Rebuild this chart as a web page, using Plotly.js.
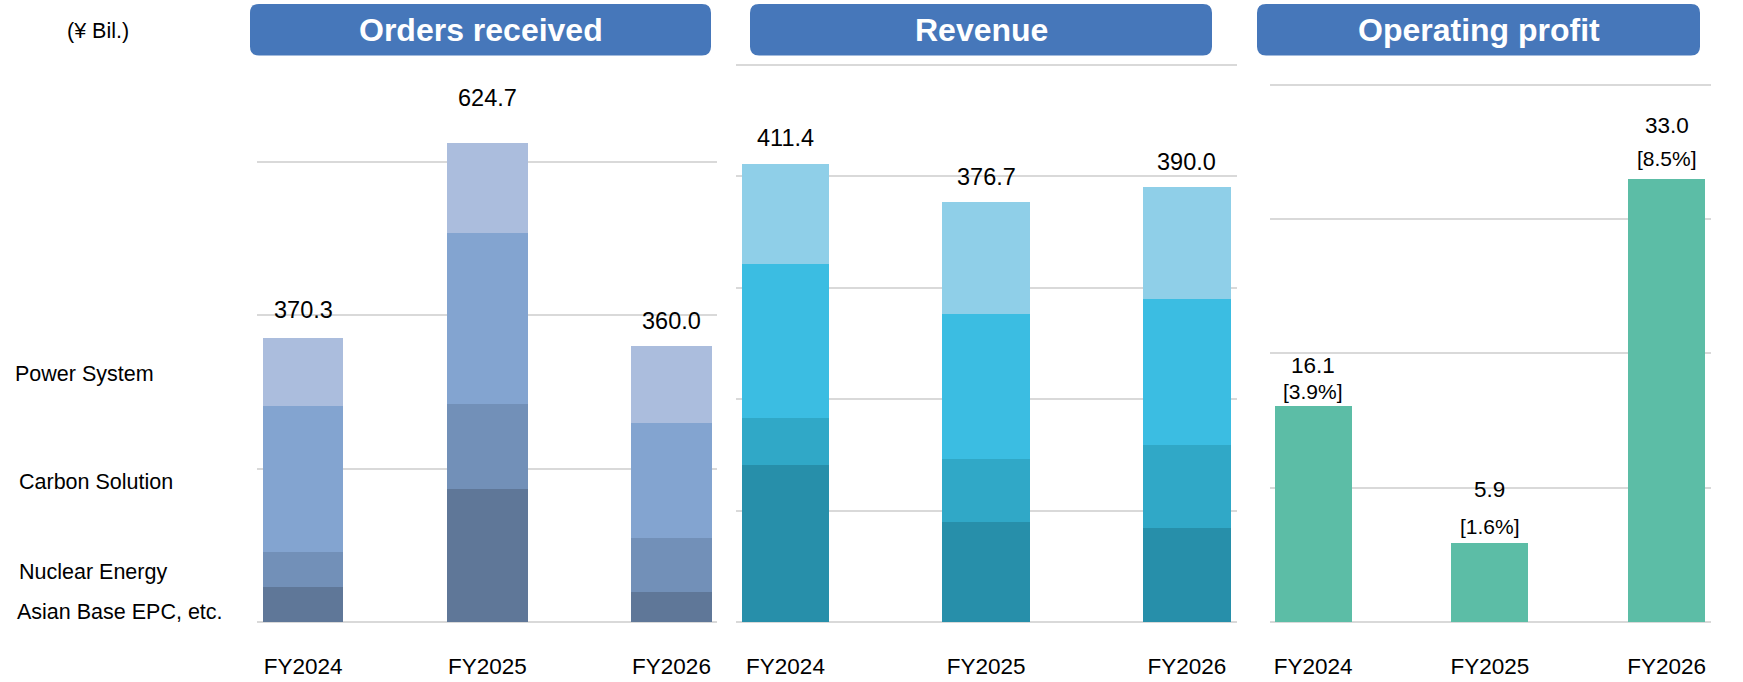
<!DOCTYPE html>
<html>
<head>
<meta charset="utf-8">
<script src="https://cdn.plot.ly/plotly-3.0.1.min.js"></script>
<style>html,body{margin:0;padding:0;background:#fff;}#chart{width:1743px;height:682px;}</style>
</head>
<body>
<div id="chart"></div>
<script>
// ---------- DATA ----------
const categories = ['FY2024', 'FY2025', 'FY2026'];
const segmentNames = ['Asian Base EPC, etc.', 'Nuclear Energy', 'Carbon Solution', 'Power System'];

const ordersAsian   = [45.6, 174.0, 39.1];
const ordersNuclear = [45.6, 110.9, 70.4];
const ordersCarbon  = [190.4, 223.0, 150.0];
const ordersPower   = [88.7, 116.8, 100.5];
const ordersTotal   = [370.3, 624.7, 360.0];

const revenueAsian   = [140.7, 89.9, 84.4];
const revenueNuclear = [42.2, 56.5, 74.8];
const revenueCarbon  = [138.0, 129.8, 130.2];
const revenuePower   = [90.5, 100.5, 100.6];
const revenueTotal   = [411.4, 376.7, 390.0];

const opProfit = [16.1, 5.9, 33.0];
const opMargin = ['[3.9%]', '[1.6%]', '[8.5%]'];

const panelTitles = ['Orders received', 'Revenue', 'Operating profit'];
const unitLabel = '(¥ Bil.)';

// ---------- LAYOUT HELPERS ----------
const W = 1743, H = 682;
const px = x => x / W;
const py = y => 1 - y / H;
const FONT = 'Liberation Sans, Arial, sans-serif';

const ordersColors  = ['#5F7798', '#7290B8', '#83A4D0', '#ABBDDD'];
const revenueColors = ['#278FAA', '#30A8C7', '#3BBDE2', '#8FCFE8'];
const opColor = '#5CBDA6';

// label offsets (px above bar top) - layout only
const ordersShift  = [27.8, 45.5, 25.2];
const revenueShift = [26, 25.5, 25.4];
const opValShift   = [40, 53.4, 53.5];
const opPctShift   = [14.7, 16.7, 19.8];

function roundRect(x0, y0, x1, y1, r) {
  const P = (x, y) => px(x) + ',' + py(y);
  return 'M' + P(x0 + r, y0) + ' L' + P(x1 - r, y0) + ' Q' + P(x1, y0) + ' ' + P(x1, y0 + r) +
    ' L' + P(x1, y1 - r) + ' Q' + P(x1, y1) + ' ' + P(x1 - r, y1) +
    ' L' + P(x0 + r, y1) + ' Q' + P(x0, y1) + ' ' + P(x0, y1 - r) +
    ' L' + P(x0, y0 + r) + ' Q' + P(x0, y0) + ' ' + P(x0 + r, y0) + ' Z';
}

// ---------- TRACES ----------
const traces = [];
const ordersSeries = [ordersAsian, ordersNuclear, ordersCarbon, ordersPower];
const revenueSeries = [revenueAsian, revenueNuclear, revenueCarbon, revenuePower];

ordersSeries.forEach((vals, i) => traces.push({
  type: 'bar', x: categories, y: vals, name: segmentNames[i],
  xaxis: 'x', yaxis: 'y', width: 0.437,
  marker: { color: ordersColors[i], line: { width: 0 } }, hoverinfo: 'skip'
}));
revenueSeries.forEach((vals, i) => traces.push({
  type: 'bar', x: categories, y: vals, name: segmentNames[i],
  xaxis: 'x2', yaxis: 'y2', width: 0.436,
  marker: { color: revenueColors[i], line: { width: 0 } }, hoverinfo: 'skip'
}));
traces.push({
  type: 'bar', x: categories, y: opProfit, name: 'Operating profit',
  xaxis: 'x3', yaxis: 'y3', width: 0.4356,
  marker: { color: opColor, line: { width: 0 } }, hoverinfo: 'skip'
});

// ---------- ANNOTATIONS ----------
const annotations = [];
ordersTotal.forEach((v, i) => annotations.push({
  xref: 'x', yref: 'y', x: categories[i], y: v, yshift: ordersShift[i],
  text: v.toFixed(1), showarrow: false, yanchor: 'middle',
  font: { family: FONT, size: 23.5, color: '#000' }
}));
revenueTotal.forEach((v, i) => annotations.push({
  xref: 'x2', yref: 'y2', x: categories[i], y: v, yshift: revenueShift[i],
  text: v.toFixed(1), showarrow: false, yanchor: 'middle',
  font: { family: FONT, size: 23.5, color: '#000' }
}));
opProfit.forEach((v, i) => {
  annotations.push({
    xref: 'x3', yref: 'y3', x: categories[i], y: v, yshift: opValShift[i],
    text: v.toFixed(1), showarrow: false, yanchor: 'middle',
    font: { family: FONT, size: 22.5, color: '#000' }
  });
  annotations.push({
    xref: 'x3', yref: 'y3', x: categories[i], y: v, yshift: opPctShift[i],
    text: opMargin[i], showarrow: false, yanchor: 'middle',
    font: { family: FONT, size: 21, color: '#000' }
  });
});

// left-side segment labels
const legendY = [374.5, 481.5, 571.7, 611.7];
const legendX = [13, 17, 17, 15];
['Power System', 'Carbon Solution', 'Nuclear Energy', 'Asian Base EPC, etc.'].forEach((t, i) => annotations.push({
  xref: 'paper', yref: 'paper', x: px(legendX[i]), y: py(legendY[i]),
  xanchor: 'left', yanchor: 'middle', text: t, showarrow: false,
  font: { family: FONT, size: 21.5, color: '#000' }
}));
annotations.push({
  xref: 'paper', yref: 'paper', x: px(98), y: py(31), xanchor: 'center', yanchor: 'middle',
  text: unitLabel, showarrow: false, font: { family: FONT, size: 21.5, color: '#000' }
});

// title boxes
const boxes = [[250, 711], [750, 1212], [1257, 1700]];
const shapes = boxes.map(b => ({
  type: 'path', xref: 'paper', yref: 'paper', path: roundRect(b[0], 4, b[1], 55.5, 9),
  fillcolor: '#4677BA', line: { width: 0 }, layer: 'above'
}));
boxes.forEach((b, i) => annotations.push({
  xref: 'paper', yref: 'paper', x: px((b[0] + b[1]) / 2), y: py(30), xanchor: 'center', yanchor: 'middle',
  text: panelTitles[i], showarrow: false,
  font: { family: FONT, size: 32, color: '#FFFFFF', weight: 'bold' }
}));

// ---------- AXES ----------
const yDom = [py(622), py(60)];
function xAxis(d0, d1, r0, r1) {
  return {
    domain: [px(d0), px(d1)], range: [r0, r1], type: 'category',
    showgrid: false, zeroline: false, showline: false,
    ticks: 'outside', ticklen: 24, tickcolor: 'rgba(0,0,0,0)',
    tickfont: { family: FONT, size: 22.5, color: '#000' }, fixedrange: true
  };
}
function yAxis(anchor, top, dtick) {
  return {
    domain: yDom, range: [0, top], anchor: anchor, dtick: dtick,
    showticklabels: false, showgrid: true, gridcolor: '#D9D9D9', gridwidth: 2,
    zeroline: true, zerolinecolor: '#D9D9D9', zerolinewidth: 2, showline: false, fixedrange: true
  };
}

const layout = {
  width: W, height: H, margin: { l: 0, r: 0, t: 0, b: 0 },
  paper_bgcolor: '#fff', plot_bgcolor: 'rgba(0,0,0,0)',
  barmode: 'stack', bargap: 0, showlegend: false,
  font: { family: FONT, color: '#000' },
  xaxis:  Object.assign(xAxis(257, 717, -0.2509, 2.2471), { anchor: 'y' }),
  xaxis2: Object.assign(xAxis(735.5, 1236.5, -0.2492, 2.2477), { anchor: 'y2' }),
  xaxis3: Object.assign(xAxis(1269.5, 1710.6, -0.2467, 2.2490), { anchor: 'y3' }),
  yaxis:  yAxis('x', 562 / 0.76667, 200),
  yaxis2: yAxis('x2', 562 / 1.1144, 100),
  yaxis3: yAxis('x3', 562 / 13.435, 10),
  shapes: shapes,
  annotations: annotations
};

Plotly.newPlot('chart', traces, layout, { staticPlot: true, displayModeBar: false });
</script>
</body>
</html>
